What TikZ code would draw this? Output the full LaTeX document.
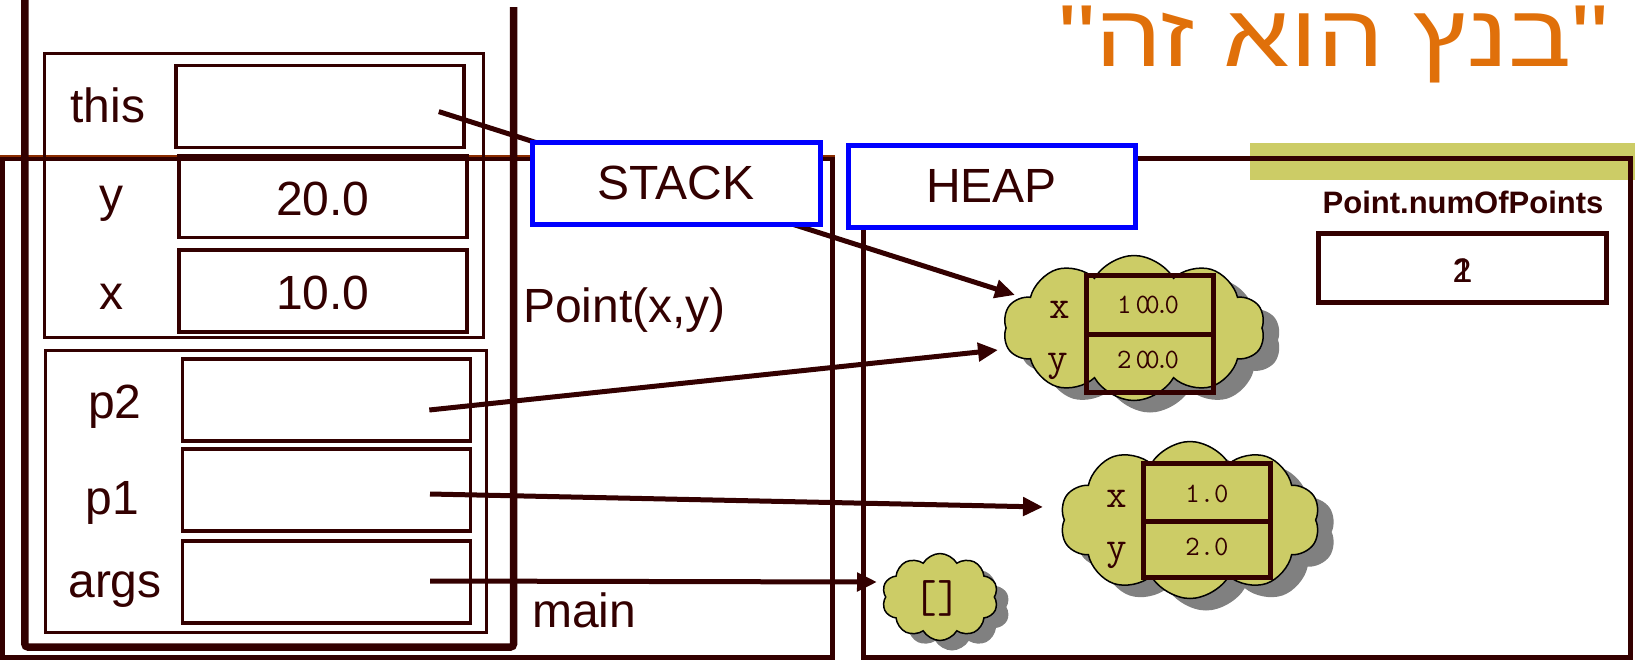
\documentclass[tikz,border=0pt]{standalone}
\usepackage{fontspec}
\setmainfont{Liberation Sans}
\newfontfamily\hebf[Script=Hebrew]{Liberation Sans}
\usetikzlibrary{shapes.symbols,arrows.meta}
\TeXXeTstate=1
\definecolor{dk}{HTML}{330000}
\definecolor{olivec}{HTML}{CCCC66}
\definecolor{ttl}{HTML}{E0700A}
\definecolor{blu}{HTML}{0000FF}
\definecolor{brn}{HTML}{8B2C00}
\definecolor{shd}{HTML}{808080}
\tikzset{
  area/.style={draw=dk, line width=5, inner sep=0},
  frm/.style={draw=dk, line width=3, inner sep=0},
  field/.style={draw=dk, line width=3.5, inner sep=0, minimum width=288, minimum height=82},
  txt/.style={inner sep=0, text=dk, font=\fontsize{48}{52}\selectfont},
  title box/.style={draw=blu, line width=5, fill=white, inner sep=0, text=dk, font=\fontsize{48}{52}\selectfont},
  cloudy/.style={cloud, cloud puffs=10, cloud puff arc=120, draw=black, line width=1.5, fill=olivec, inner sep=0},
  cshadow/.style={cloud, cloud puffs=10, cloud puff arc=120, fill=shd, inner sep=0},
  cell/.style={draw=dk, line width=5, inner sep=0, minimum width=127},
  mval/.style={inner sep=0, text=dk, font=\ttfamily\fontsize{28}{32}\selectfont},
  mlab/.style={inner sep=0, text=dk, font=\ttfamily\fontsize{40}{44}\selectfont},
  ptr/.style={line width=5, draw=dk, -{Triangle[length=20pt,width=18pt]}},
}
\begin{document}
\begin{tikzpicture}[x=1pt,y=-1pt]
\useasboundingbox (0,0) rectangle (1635,659);
% olive bar
\fill[olivec] (1250,143) rectangle (1635,180);
% areas
\node[area, minimum width=830, minimum height=499] (stackarea) at (417,408) {};
\draw[brn, line width=2.5] (stackarea.north west) -- (stackarea.north east);
\node[area, minimum width=767, minimum height=499] (heaparea) at (1246.5,408) {};
% thick frame (open at top)
\draw[dk, line width=7.5, rounded corners=3] (24.9,0) -- (24.9,647) -- (513.5,647) -- (513.5,7);
% Point frame
\node[frm, minimum width=439.4, minimum height=284.4] (pointframe) at (263.7,195.6) {};
\node[field] (fthis) at (319.8,106.5) {};
\node[field] (fy) at (322.9,196.6) {};
\node[field] (fx) at (322.9,291) {};
\node[txt, anchor=base] (lthis) at (108,122.4) {this};
\node[txt, anchor=base] (ly) at (111.6,211) {y};
\node[txt, anchor=base] (lx) at (111.6,309) {x};
\node[txt, anchor=base] (vy) at (322.9,215) {20.0};
\node[txt, anchor=base] (vx) at (322.9,309) {10.0};
% main frame
\node[frm, minimum width=440.5, minimum height=282.3] (mainframe) at (265.9,491.5) {};
\node[field] (fp2) at (326.6,400.2) {};
\node[field] (fp1) at (326.6,490) {};
\node[field] (fargs) at (326.6,581.9) {};
\node[txt, anchor=base] (lp2) at (115,418.6) {p2};
\node[txt, anchor=base] (lp1) at (112.6,514) {p1};
\node[txt, anchor=base] (largs) at (115,597) {args};
\node[txt, anchor=base west] (lpoint) at (523,322) {Point(x,y)};
\node[txt, anchor=base west] (lmain) at (532,627) {main};
% clouds
\node[cshadow, minimum width=262, minimum height=145] (c1s) at (1150,340) {};
\node[cloudy, minimum width=262, minimum height=145] (c1) at (1134,328) {};
\node[cshadow, minimum width=260, minimum height=157] (c2s) at (1206,532) {};
\node[cloudy, minimum width=260, minimum height=157] (c2) at (1190,520) {};
\node[cshadow, minimum width=116, minimum height=87] (c3s) at (952,607) {};
\node[cloudy, minimum width=116, minimum height=87] (c3) at (940,597) {};
% cloud 1 content
\node[cell, minimum height=59] (c1x) at (1149.5,304.5) {};
\node[cell, minimum height=58] (c1y) at (1149.5,363) {};
\node[mval, anchor=base] (c1xv) at (1148,313) {1\kern0.15em0\kern-0.17em0\kern-0.17em.\kern-0.17em0};
\node[mval, anchor=base] (c1yv) at (1148,368) {2\kern0.15em0\kern-0.17em0\kern-0.17em.\kern-0.17em0};
\node[mlab, anchor=base] (c1xl) at (1060,318) {x};
\node[mlab, anchor=base] (c1yl) at (1058,370) {y};
% cloud 2 content
\node[cell, minimum height=58] (c2x) at (1206.5,492) {};
\node[cell, minimum height=56] (c2y) at (1206.5,549) {};
\node[mval, anchor=base] (c2xv) at (1207,502) {1.0};
\node[mval, anchor=base] (c2yv) at (1207,555) {2.0};
\node[mlab, anchor=base] (c2xl) at (1117,507) {x};
\node[mlab, anchor=base] (c2yl) at (1117,559) {y};
% cloud 3 content
\node[inner sep=0, text=dk, font=\ttfamily\fontsize{46}{50}\selectfont] (c3v) at (937,598) {[]};
% pointers
\coordinate (sthis) at (438.8,111.6);
\coordinate (sp2) at (429.3,410);
\coordinate (sp1) at (430,494);
\coordinate (sargs) at (430,581);
\coordinate (tthis) at (1015,295);
\coordinate (tp2) at (998,350);
\coordinate (tp1) at (1043,507);
\coordinate (targs) at (877,582);
\draw[ptr] (sthis) -- (tthis);
\draw[ptr] (sp2) -- (tp2);
\draw[ptr] (sp1) -- (tp1);
\draw[ptr] (sargs) -- (targs);
% STACK / HEAP labels
\node[title box, minimum width=288, minimum height=82] (stack) at (676,183) {STACK};
\node[title box, minimum width=287, minimum height=82] (heap) at (991.5,186) {HEAP};
% static field
\node[inner sep=0, text=dk, font=\bfseries\fontsize{31}{34}\selectfont, anchor=base] (nlabel) at (1463,213) {Point.numOfPoints};
\node[draw=dk, line width=5, inner sep=0, minimum width=288, minimum height=69] (nbox) at (1462,267.5) {};
\node[inner sep=0, text=dk, font=\fontsize{34}{38}\selectfont, anchor=base] (n2) at (1462,282) {2};
\node[inner sep=0, text=dk, font=\fontsize{34}{38}\selectfont, anchor=base] (n1) at (1463,282) {1};
% title
\node[inner sep=0, text=ttl, font=\hebf\fontsize{88}{94}\selectfont, anchor=base] (title) at (1333.5,66) {\scalebox{1.2}[1]{\beginR"בנץ הוא זה"\endR}};
\end{tikzpicture}
\end{document}
